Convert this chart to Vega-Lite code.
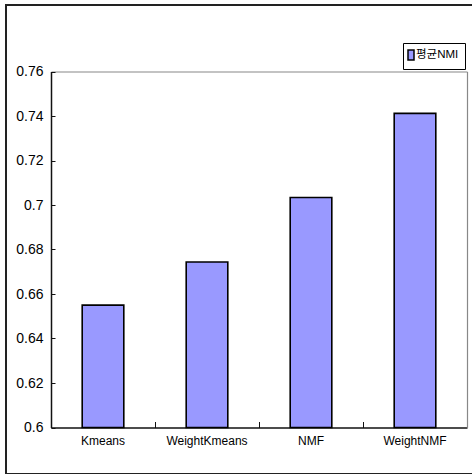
{
  "$schema": "https://vega.github.io/schema/vega-lite/v6.json",
  "width": 480,
  "height": 469,
  "autosize": {"type": "none"},
  "padding": {"left": 6, "top": 5, "right": 0, "bottom": 0},
  "background": "white",
  "data": {"values": [
    {"method": "Kmeans", "nmi": 0.655, "series": "평균NMI"},
    {"method": "WeightKmeans", "nmi": 0.6744, "series": "평균NMI"},
    {"method": "NMF", "nmi": 0.7034, "series": "평균NMI"},
    {"method": "WeightNMF", "nmi": 0.7412, "series": "평균NMI"}
  ]},
  "layer": [
    {
      "mark": {"type": "bar", "stroke": "black", "strokeWidth": 1.6},
      "encoding": {
        "x": {
          "field": "method", "type": "nominal", "sort": null,
          "scale": {"range": [45, 461], "paddingInner": 0.6, "paddingOuter": 0.3},
          "axis": {
            "title": null, "orient": "bottom", "offset": -46.5, "labelAngle": 0,
            "domainColor": "#111", "domainWidth": 1.5,
            "tickColor": "#111", "tickSize": -6, "tickWidth": 1, "bandPosition": -0.75,
            "labelPadding": 14, "labelFont": "Liberation Sans", "labelFontSize": 12, "labelColor": "black"
          }
        },
        "y": {
          "field": "nmi", "type": "quantitative",
          "scale": {"domain": [0.6, 0.76], "range": [422.5, 66.5], "zero": false, "nice": false},
          "axis": {
            "title": null, "orient": "left", "offset": -45, "grid": false, "format": ".2~f",
            "values": [0.6, 0.62, 0.64, 0.66, 0.68, 0.7, 0.72, 0.74, 0.76],
            "domainColor": "#111", "domainWidth": 1.5,
            "tickColor": "#111", "tickSize": -4, "tickWidth": 1,
            "labelPadding": 12, "labelFont": "Liberation Sans", "labelFontSize": 14, "labelColor": "black"
          }
        },
        "y2": {"datum": 0.6},
        "color": {
          "field": "series", "type": "nominal",
          "scale": {"range": ["#9999FF"]},
          "legend": {
            "title": null, "orient": "none", "legendX": 397, "legendY": 38,
            "padding": 6, "strokeColor": "black", "fillColor": "white",
            "symbolType": "M-1.4,-1H-0.2V1H-1.4Z", "symbolSize": 100,
            "symbolStrokeColor": "black", "symbolStrokeWidth": 1.5, "symbolOpacity": 1,
            "labelOffset": -5, "labelFont": "Liberation Sans, Noto Sans CJK KR", "labelFontSize": 11.5, "labelColor": "black"
          }
        }
      }
    },
    {
      "mark": {"type": "bar", "opacity": 0},
      "encoding": {
        "x": {
          "field": "method", "type": "nominal", "sort": null,
          "axis": {"title": null, "orient": "top", "offset": -66.5, "ticks": false, "labels": false, "domainColor": "#888", "domainWidth": 1.2}
        },
        "y": {
          "field": "nmi", "type": "quantitative",
          "axis": {"title": null, "orient": "right", "offset": -19, "ticks": false, "labels": false, "grid": false, "domainColor": "#888", "domainWidth": 1.2}
        },
        "y2": {"datum": 0.6}
      }
    }
  ],
  "resolve": {"axis": {"x": "independent", "y": "independent"}},
  "config": {
    "view": {"stroke": "#222", "strokeWidth": 2},
    "axis": {"grid": false}
  }
}
